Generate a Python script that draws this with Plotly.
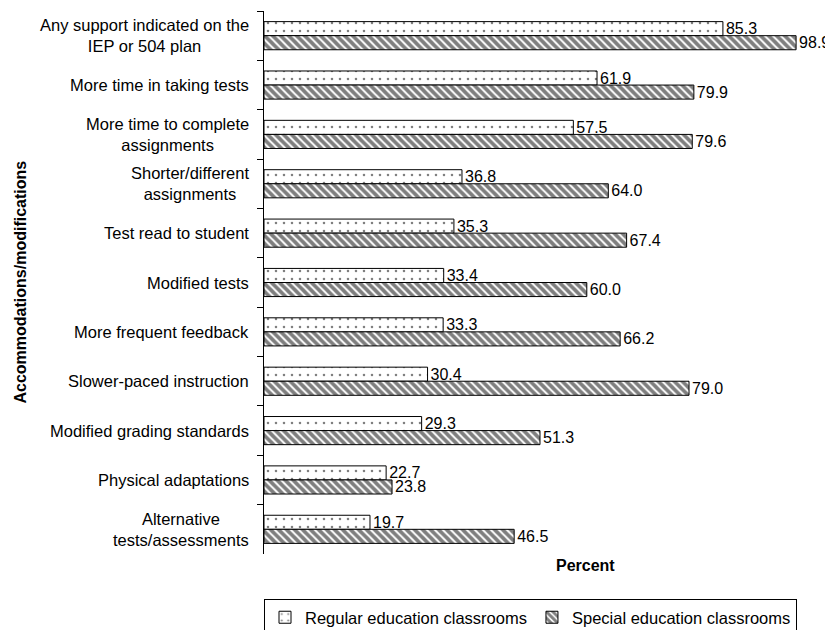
import plotly.graph_objects as go

categories = [
    "Any support indicated on the<br>IEP or 504 plan",
    "More time in taking tests",
    "More time to complete<br>assignments",
    "Shorter/different<br>assignments",
    "Test read to student",
    "Modified tests",
    "More frequent feedback",
    "Slower-paced instruction",
    "Modified grading standards",
    "Physical adaptations",
    "Alternative<br>tests/assessments",
]
regular = [85.3, 61.9, 57.5, 36.8, 35.3, 33.4, 33.3, 30.4, 29.3, 22.7, 19.7]
special = [98.9, 79.9, 79.6, 64.0, 67.4, 60.0, 66.2, 79.0, 51.3, 23.8, 46.5]
series_names = ["Regular education classrooms", "Special education classrooms"]
x_title = "Percent"
y_title = "Accommodations/modifications"

FONT = "Liberation Sans, Arial, sans-serif"
FS = 16.5
VS = 16

fig = go.Figure()
fig.add_trace(go.Bar(
    y=categories, x=regular, orientation="h", name=series_names[0],
    marker=dict(color="white", line=dict(color="black", width=1),
                pattern=dict(shape=".", fgcolor="black", bgcolor="white",
                             size=8, solidity=0.08, fillmode="overlay")),
    text=[f"{v:.1f}" for v in regular], textposition="outside",
    textfont=dict(family=FONT, size=VS, color="black"),
    constraintext="none", cliponaxis=False,
))
fig.add_trace(go.Bar(
    y=categories, x=special, orientation="h", name=series_names[1],
    marker=dict(color="white", line=dict(color="black", width=1),
                pattern=dict(shape="\\", fgcolor="black", bgcolor="white",
                             size=5.657, solidity=0.65, fillmode="overlay")),
    text=[f"{v:.1f}" for v in special], textposition="outside",
    textfont=dict(family=FONT, size=VS, color="black"),
    constraintext="none", cliponaxis=False,
))

annotations = []
for c in categories:
    annotations.append(dict(
        x=-0.0242, xref="paper", y=c, yref="y", text=c, showarrow=False,
        xanchor="right", yanchor="middle", align="center",
        font=dict(family=FONT, size=FS, color="black"),
    ))
annotations.append(dict(
    x=0.5985, xref="paper", y=-0.0203, yref="paper", text="<b>" + x_title + "</b>",
    showarrow=False, xanchor="center", yanchor="middle",
    font=dict(family=FONT, size=16, color="black"),
))
annotations.append(dict(
    x=-0.4535, xref="paper", y=0.5, yref="paper", text="<b>" + y_title + "</b>",
    showarrow=False, xanchor="center", yanchor="middle", textangle=-90,
    font=dict(family=FONT, size=16, color="black"),
))

# page body has an 8px margin, so the figure is offset accordingly
fig.update_layout(
    width=825, height=622,
    margin=dict(l=256, r=31, t=3, b=76, autoexpand=False),
    paper_bgcolor="white", plot_bgcolor="white",
    barmode="group", bargap=0.43, bargroupgap=0,
    font=dict(family=FONT, size=FS, color="black"),
    showlegend=True,
    legend=dict(orientation="h", x=0.0, xanchor="left", y=-0.0829, yanchor="top",
                bordercolor="black", borderwidth=1, bgcolor="white",
                font=dict(family=FONT, size=FS, color="black"),
                traceorder="normal"),
    annotations=annotations,
)
fig.update_xaxes(range=[0, 100], showgrid=False, zeroline=False, showline=False,
                 showticklabels=False, ticks="")
fig.update_yaxes(autorange="reversed", showgrid=False, zeroline=False, showline=True,
                 linecolor="black", linewidth=1, ticks="outside", ticklen=6,
                 tickcolor="black", tickson="boundaries", showticklabels=False)

fig.write_html("out.html")
